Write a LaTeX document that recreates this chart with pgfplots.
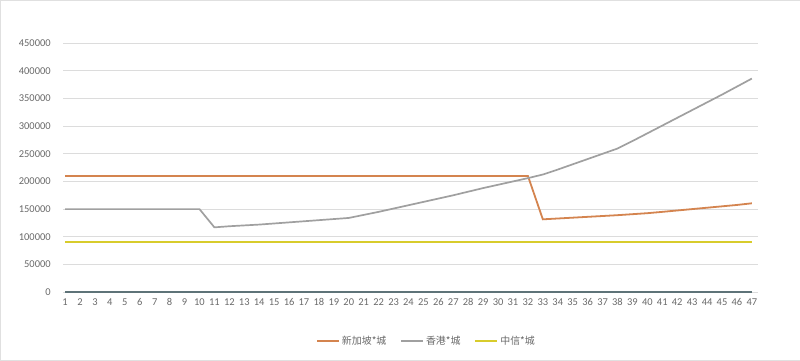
\documentclass[border=0pt]{standalone}
\usepackage{pgfplots}
\usepackage{pgfplotstable}
\pgfplotsset{compat=1.18}
\usepackage{fontspec}
\setmainfont{Carlito}
\newfontfamily\cjk{Noto Sans CJK SC}
\definecolor{cOrange}{HTML}{D4844F}
\definecolor{cGray}{HTML}{A0A0A0}
\definecolor{cYellow}{HTML}{D8CC2C}
\definecolor{cTeal}{HTML}{5E7378}
\definecolor{cGrid}{HTML}{DCDCDC}
\definecolor{cText}{HTML}{6A6A6A}
\pgfplotstableread{
x o g y z
1 210000 150000 90000 0
2 210000 150000 90000 0
3 210000 150000 90000 0
4 210000 150000 90000 0
5 210000 150000 90000 0
6 210000 150000 90000 0
7 210000 150000 90000 0
8 210000 150000 90000 0
9 210000 150000 90000 0
10 210000 150000 90000 0
11 210000 117000 90000 0
12 210000 119000 90000 0
13 210000 120500 90000 0
14 210000 122000 90000 0
15 210000 124000 90000 0
16 210000 126000 90000 0
17 210000 128000 90000 0
18 210000 130000 90000 0
19 210000 132000 90000 0
20 210000 134000 90000 0
21 210000 139500 90000 0
22 210000 145000 90000 0
23 210000 151000 90000 0
24 210000 157000 90000 0
25 210000 163000 90000 0
26 210000 169000 90000 0
27 210000 175000 90000 0
28 210000 181500 90000 0
29 210000 188000 90000 0
30 210000 194000 90000 0
31 210000 200000 90000 0
32 210000 206000 90000 0
33 131500 212500 90000 0
34 133000 221500 90000 0
35 134500 231000 90000 0
36 136000 240500 90000 0
37 137500 250000 90000 0
38 139000 259500 90000 0
39 140800 273000 90000 0
40 142600 287000 90000 0
41 145000 301000 90000 0
42 147500 315000 90000 0
43 150000 329000 90000 0
44 152500 343000 90000 0
45 155000 357000 90000 0
46 157500 371500 90000 0
47 160500 386000 90000 0
}\datatable
\begin{document}
\begin{tikzpicture}
\path[use as bounding box, fill=white, draw=black!12] (-63bp,-68bp) rectangle (737bp,292bp);
\begin{axis}[
  scale only axis,
  width=695bp, height=249bp,
  at={(0,0)}, anchor=south west,
  xmin=0.87, xmax=47.4,
  ymin=0, ymax=450000,
  axis line style={draw=none},
  xtick={1,...,47},
  ytick={0,50000,...,450000},
  major tick length=0pt,
  ymajorgrids, grid style={cGrid, line width=0.8pt},
  scaled y ticks=false,
  /pgf/number format/.cd, fixed, precision=0, 1000 sep={}, assume math mode=true, /pgfplots/.cd,
  yticklabel style={font=\fontsize{10.5}{12}\selectfont, text=cText, xshift=-9bp},
  xticklabel style={font=\fontsize{10.5}{12}\selectfont, text=cText, yshift=-3bp},
  legend style={at={(0.523,-0.197)}, anchor=center, draw=none, fill=none,
    font=\cjk\fontsize{10}{12}\selectfont, text=cText,
    /tikz/every even column/.append style={column sep=12bp}},
  legend columns=3,
  legend image code/.code={\draw[#1] (0bp,0bp) -- (22bp,0bp);},
]
\addplot[cTeal, line width=1.5pt, forget plot] table[x=x, y=z] {\datatable};
\addplot[cOrange, line width=1.8pt] table[x=x, y=o] {\datatable};
\addlegendentry{新加坡*城}
\addplot[cGray, line width=1.7pt] table[x=x, y=g] {\datatable};
\addlegendentry{香港*城}
\addplot[cYellow, line width=1.8pt] table[x=x, y=y] {\datatable};
\addlegendentry{中信*城}
\end{axis}
\end{tikzpicture}
\end{document}
